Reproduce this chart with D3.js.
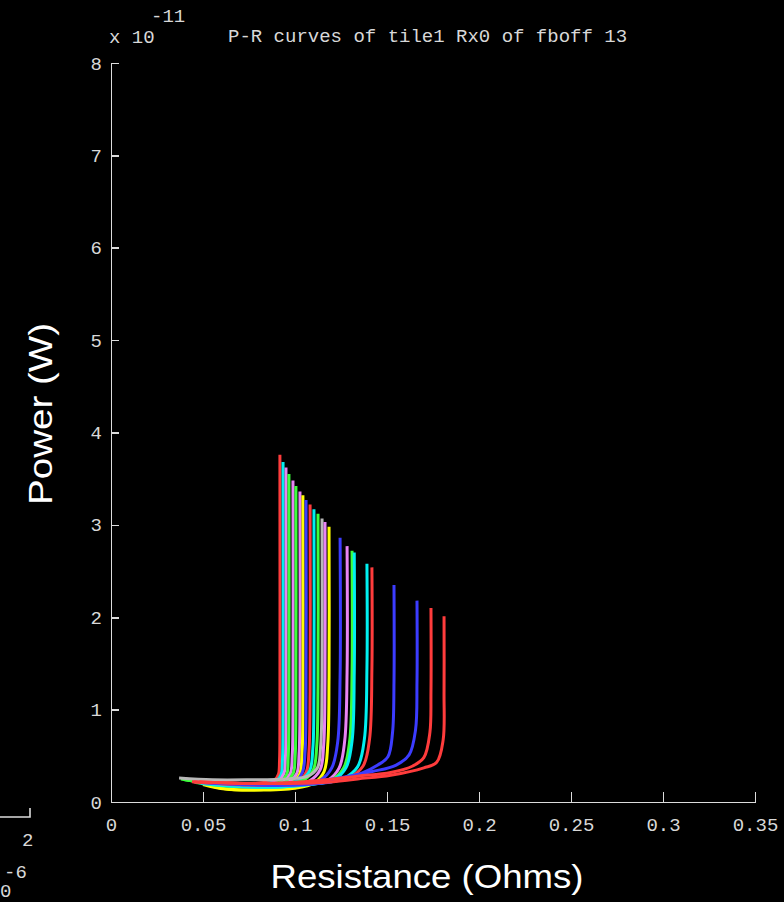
<!DOCTYPE html>
<html lang="en">
<head>
    <meta charset="UTF-8">
    <title>P-R curves</title>
    <script src="https://d3js.org/d3.v7.min.js"></script>
    <style>
        body { margin: 0; background: #000; }
        .axis path, .axis line { stroke: #dcdcdc; stroke-width: 1.6; shape-rendering: crispEdges; }
        .axis text, .mono { fill: #d8d8d8; font-family: "Liberation Mono", "DejaVu Sans Mono", monospace; font-size: 19px; }
        .big { fill: #fff; font-family: "Liberation Sans", Arial, sans-serif; font-size: 33px; }
    </style>
</head>
<body>
    <div id="chart"></div>

    <script>
        // axis ticks
        var xTicks = [0, 0.05, 0.1, 0.15, 0.2, 0.25, 0.3, 0.35];
        var xTickLabels = ["0", "0.05", "0.1", "0.15", "0.2", "0.25", "0.3", "0.35"];
        var yTicks = [0, 1, 2, 3, 4, 5, 6, 7, 8];
        var yTickLabels = ["0", "1", "2", "3", "4", "5", "6", "7", "8"];

        // one entry per sweep, colour of each sweep
        var curveColors = ["red", "cyan", "violet", "green", "violet", "green", "violet", "yellow",
            "blue", "red", "cyan", "green", "grey", "violet", "yellow", "blue", "violet", "green",
            "cyan", "cyan", "red", "blue", "blue", "red", "red"];

        // resistance (Ohms) of each sweep, low R first
        var curveR = [
            [0.040, 0.055, 0.070, 0.083, 0.089, 0.0910, 0.0916, 0.0918, 0.0918],
            [0.042, 0.056, 0.072, 0.084, 0.090, 0.0925, 0.0932, 0.0935, 0.0935],
            [0.045, 0.058, 0.073, 0.086, 0.091, 0.0940, 0.0948, 0.0951, 0.0951],
            [0.038, 0.052, 0.070, 0.085, 0.092, 0.0955, 0.0963, 0.0967, 0.0967],
            [0.046, 0.060, 0.075, 0.087, 0.094, 0.0975, 0.0985, 0.0989, 0.0989],
            [0.040, 0.055, 0.072, 0.088, 0.095, 0.0990, 0.1001, 0.1005, 0.1005],
            [0.048, 0.062, 0.077, 0.090, 0.097, 0.1010, 0.1022, 0.1027, 0.1027],
            [0.050, 0.060, 0.075, 0.090, 0.098, 0.1025, 0.1038, 0.1043, 0.1043],
            [0.047, 0.062, 0.078, 0.092, 0.100, 0.1040, 0.1055, 0.1060, 0.1060],
            [0.044, 0.060, 0.078, 0.094, 0.102, 0.1062, 0.1076, 0.1082, 0.1082],
            [0.043, 0.058, 0.076, 0.094, 0.103, 0.1080, 0.1097, 0.1103, 0.1103],
            [0.039, 0.055, 0.074, 0.095, 0.105, 0.1100, 0.1118, 0.1125, 0.1125],
            [0.037, 0.055, 0.075, 0.096, 0.107, 0.1122, 0.1140, 0.1147, 0.1147],
            [0.045, 0.060, 0.078, 0.098, 0.108, 0.1137, 0.1156, 0.1163, 0.1163],
            [0.050, 0.062, 0.080, 0.100, 0.110, 0.1158, 0.1178, 0.1185, 0.1185],
            [0.048, 0.065, 0.085, 0.103, 0.114, 0.1200, 0.1232, 0.1245, 0.1245],
            [0.050, 0.068, 0.088, 0.106, 0.118, 0.1240, 0.1270, 0.1283, 0.1283],
            [0.046, 0.064, 0.086, 0.107, 0.120, 0.1265, 0.1297, 0.1310, 0.1310],
            [0.049, 0.066, 0.088, 0.108, 0.121, 0.1277, 0.1310, 0.1322, 0.1322],
            [0.047, 0.066, 0.090, 0.112, 0.126, 0.1340, 0.1377, 0.1391, 0.1391],
            [0.044, 0.065, 0.092, 0.115, 0.129, 0.1370, 0.1405, 0.1418, 0.1418],
            [0.050, 0.070, 0.095, 0.120, 0.136, 0.1450, 0.1505, 0.1530, 0.1538, 0.1538],
            [0.052, 0.075, 0.100, 0.124, 0.142, 0.1550, 0.1620, 0.1655, 0.1663, 0.1663],
            [0.048, 0.075, 0.105, 0.134, 0.152, 0.1640, 0.1700, 0.1733, 0.1739, 0.1739],
            [0.045, 0.080, 0.115, 0.134, 0.152, 0.1700, 0.1770, 0.1805, 0.1810, 0.1810]
        ];

        // power (x 1e-11 W) of each sweep, same order
        var curveP = [
            [0.25, 0.22, 0.20, 0.21, 0.24, 0.30, 0.45, 0.90, 3.76],
            [0.24, 0.20, 0.19, 0.20, 0.23, 0.30, 0.46, 0.95, 3.68],
            [0.23, 0.19, 0.18, 0.20, 0.23, 0.31, 0.48, 1.00, 3.62],
            [0.25, 0.21, 0.18, 0.19, 0.22, 0.30, 0.48, 1.00, 3.55],
            [0.22, 0.19, 0.17, 0.19, 0.22, 0.31, 0.50, 1.05, 3.48],
            [0.24, 0.20, 0.17, 0.18, 0.22, 0.31, 0.50, 1.10, 3.42],
            [0.22, 0.18, 0.16, 0.18, 0.22, 0.31, 0.52, 1.10, 3.36],
            [0.20, 0.15, 0.13, 0.15, 0.20, 0.30, 0.52, 1.10, 3.32],
            [0.22, 0.18, 0.16, 0.18, 0.22, 0.32, 0.55, 1.15, 3.27],
            [0.23, 0.19, 0.17, 0.19, 0.23, 0.33, 0.55, 1.20, 3.22],
            [0.24, 0.20, 0.18, 0.20, 0.24, 0.34, 0.58, 1.20, 3.17],
            [0.25, 0.19, 0.17, 0.19, 0.24, 0.35, 0.60, 1.25, 3.12],
            [0.26, 0.24, 0.24, 0.25, 0.28, 0.37, 0.62, 1.30, 3.07],
            [0.22, 0.18, 0.16, 0.18, 0.23, 0.35, 0.62, 1.30, 3.03],
            [0.19, 0.14, 0.13, 0.15, 0.20, 0.33, 0.62, 1.35, 2.98],
            [0.21, 0.18, 0.17, 0.19, 0.24, 0.37, 0.65, 1.35, 2.86],
            [0.20, 0.17, 0.16, 0.19, 0.24, 0.37, 0.66, 1.40, 2.77],
            [0.21, 0.17, 0.16, 0.19, 0.24, 0.37, 0.66, 1.40, 2.72],
            [0.20, 0.17, 0.16, 0.19, 0.24, 0.37, 0.66, 1.40, 2.70],
            [0.21, 0.18, 0.17, 0.20, 0.25, 0.38, 0.68, 1.45, 2.58],
            [0.22, 0.19, 0.18, 0.21, 0.26, 0.39, 0.68, 1.45, 2.54],
            [0.21, 0.19, 0.18, 0.22, 0.31, 0.40, 0.49, 0.75, 1.30, 2.35],
            [0.21, 0.19, 0.20, 0.26, 0.33, 0.40, 0.51, 0.78, 1.30, 2.18],
            [0.22, 0.20, 0.22, 0.28, 0.32, 0.39, 0.48, 0.75, 1.20, 2.10],
            [0.22, 0.20, 0.21, 0.25, 0.29, 0.37, 0.43, 0.67, 1.20, 2.01]
        ];

        var palette = {
            red: "#ff3c3c", cyan: "#00f0f0", violet: "#e884f4", green: "#3cff3c",
            blue: "#3c3cff", yellow: "#ffff00", grey: "#b8b8b8"
        };

        var svg = d3.select("#chart")
            .append("svg")
            .attr("width", 784)
            .attr("height", 902);

        var x = d3.scaleLinear().domain([0, 0.35]).range([111, 755]);
        var y = d3.scaleLinear().domain([0, 8]).range([802, 63]);

        // curves
        var line = d3.line()
            .curve(d3.curveCatmullRom.alpha(0.5))
            .x(function(d) { return x(d[0]); })
            .y(function(d) { return y(d[1]); });

        curveR.forEach(function(rs, i) {
            var pts = rs.map(function(r, j) { return [r, curveP[i][j]]; });
            svg.append("path")
                .datum(pts)
                .attr("fill", "none")
                .attr("stroke", palette[curveColors[i]])
                .attr("stroke-width", 3)
                .attr("stroke-linejoin", "round")
                .attr("d", line);
        });

        // axes
        svg.append("g")
            .attr("class", "axis")
            .attr("transform", "translate(0,802)")
            .call(d3.axisBottom(x)
                .tickValues(xTicks)
                .tickFormat(function(d, i) { return xTickLabels[i]; })
                .tickSizeInner(-10)
                .tickSizeOuter(0)
                .tickPadding(16));

        svg.append("g")
            .attr("class", "axis")
            .attr("transform", "translate(111,0)")
            .call(d3.axisLeft(y)
                .tickValues(yTicks)
                .tickFormat(function(d, i) { return yTickLabels[i]; })
                .tickSizeInner(-8)
                .tickSizeOuter(0)
                .tickPadding(9));

        svg.selectAll(".axis .domain").attr("stroke", "#dcdcdc");

        // title and exponent
        svg.append("text")
            .attr("class", "mono")
            .attr("x", 228)
            .attr("y", 42)
            .text("P-R curves of tile1 Rx0 of fboff 13");

        svg.append("text")
            .attr("class", "mono")
            .attr("x", 109)
            .attr("y", 43)
            .text("x 10");

        svg.append("text")
            .attr("class", "mono")
            .attr("x", 151)
            .attr("y", 22)
            .text("-11");

        // axis titles
        svg.append("text")
            .attr("class", "big")
            .attr("transform", "translate(52,414) rotate(-90)")
            .attr("text-anchor", "middle")
            .attr("textLength", 182)
            .attr("lengthAdjust", "spacingAndGlyphs")
            .text("Power (W)");

        svg.append("text")
            .attr("class", "big")
            .attr("x", 427)
            .attr("y", 888)
            .attr("text-anchor", "middle")
            .attr("textLength", 313)
            .attr("lengthAdjust", "spacingAndGlyphs")
            .text("Resistance (Ohms)");

        // leftover bit of a neighbouring plot at the bottom left
        svg.append("path")
            .attr("d", "M0,817H30V808")
            .attr("fill", "none")
            .attr("stroke", "#dcdcdc")
            .attr("stroke-width", 1.6);

        svg.append("text").attr("class", "mono").attr("x", 22).attr("y", 846).text("2");
        svg.append("text").attr("class", "mono").attr("x", 4).attr("y", 878).text("-6");
        svg.append("text").attr("class", "mono").attr("x", 0).attr("y", 897).attr("font-size", 15).text("0");
    </script>
</body>
</html>
